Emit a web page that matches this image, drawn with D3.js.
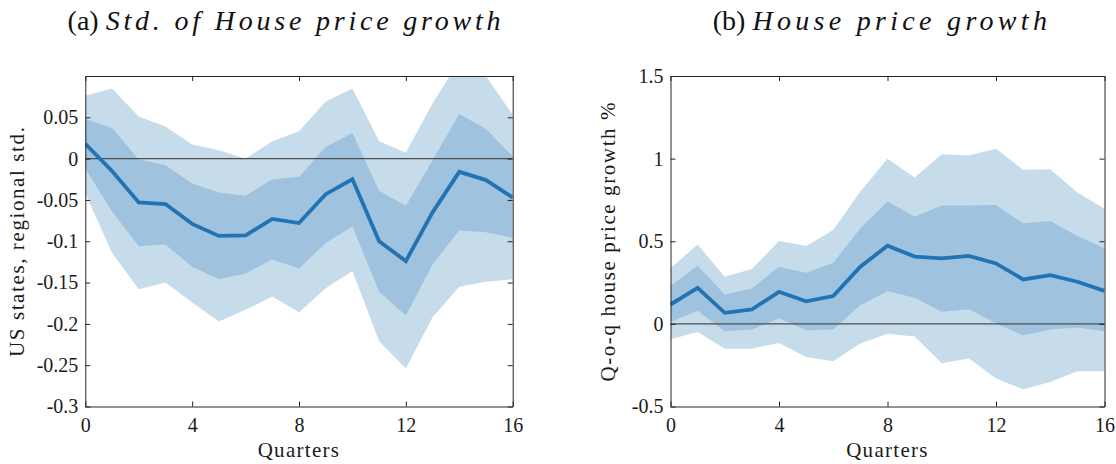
<!DOCTYPE html>
<html>
<head>
<meta charset="utf-8">
<script src="https://cdn.jsdelivr.net/npm/d3@7"></script>
<style>
  html, body { margin: 0; padding: 0; background: #ffffff; }
  svg { display: block; }
  svg text { font-family: "Liberation Serif", "Times New Roman", Times, "DejaVu Serif", serif; }
</style>
</head>
<body>
<svg id="chart" width="1116" height="464"></svg>
<script>
// ---------------- data ----------------
const quarters = [0,1,2,3,4,5,6,7,8,9,10,11,12,13,14,15,16];
const xTicks = [0,4,8,12,16];

// (a) Std. of house price growth
const stdOuterHi = [0.076, 0.085, 0.051, 0.039, 0.017, 0.010, 0.000, 0.021, 0.033, 0.069, 0.085, 0.021, 0.007, 0.067, 0.118, 0.100, 0.053];
const stdInnerHi = [0.048, 0.037, -0.001, -0.008, -0.030, -0.041, -0.045, -0.025, -0.022, 0.014, 0.031, -0.039, -0.057, -0.002, 0.054, 0.036, 0.003];
const stdMedian  = [0.018, -0.015, -0.053, -0.055, -0.079, -0.0935, -0.093, -0.073, -0.078, -0.043, -0.025, -0.100, -0.124, -0.065, -0.016, -0.026, -0.047];
const stdInnerLo = [-0.012, -0.064, -0.106, -0.104, -0.131, -0.146, -0.139, -0.122, -0.133, -0.102, -0.082, -0.161, -0.190, -0.128, -0.087, -0.089, -0.096];
const stdOuterLo = [-0.042, -0.114, -0.158, -0.150, -0.174, -0.197, -0.183, -0.167, -0.186, -0.157, -0.136, -0.221, -0.254, -0.192, -0.155, -0.149, -0.146];
const stdYTicks = [-0.3, -0.25, -0.2, -0.15, -0.1, -0.05, 0, 0.05];
const stdYTickLabels = ["-0.3", "-0.25", "-0.2", "-0.15", "-0.1", "-0.05", "0", "0.05"];

// (b) House price growth
const hpOuterHi = [0.336, 0.481, 0.285, 0.332, 0.502, 0.471, 0.568, 0.801, 0.999, 0.886, 1.027, 1.019, 1.060, 0.932, 0.936, 0.795, 0.696];
const hpInnerHi = [0.229, 0.352, 0.178, 0.214, 0.346, 0.309, 0.370, 0.578, 0.740, 0.649, 0.716, 0.716, 0.720, 0.609, 0.623, 0.532, 0.457];
const hpMedian  = [0.117, 0.218, 0.067, 0.087, 0.194, 0.136, 0.168, 0.346, 0.473, 0.407, 0.396, 0.411, 0.366, 0.269, 0.295, 0.255, 0.200];
const hpInnerLo = [0.012, 0.079, -0.044, -0.034, 0.032, -0.038, -0.034, 0.113, 0.198, 0.158, 0.073, 0.089, 0.002, -0.069, -0.034, -0.022, -0.045];
const hpOuterLo = [-0.093, -0.049, -0.150, -0.150, -0.115, -0.200, -0.226, -0.119, -0.059, -0.077, -0.238, -0.210, -0.331, -0.396, -0.352, -0.287, -0.287];
const hpYTicks = [-0.5, 0, 0.5, 1, 1.5];
const hpYTickLabels = ["-0.5", "0", "0.5", "1", "1.5"];

// ---------------- style ----------------
const C_OUTER = "#c6dcea";
const C_INNER = "#9fc3de";
const C_LINE  = "#2173b3";
const C_AXIS  = "#262626";
const FONT = '"Liberation Serif", "Times New Roman", Times, "DejaVu Serif", serif';

const svg = d3.select("#chart");

function panel(cfg) {
  const { left, right, top, bottom, yDomain, yTicks, yTickLabels,
          outerHi, innerHi, median, innerLo, outerLo, id } = cfg;
  const x = d3.scaleLinear().domain([0, 16]).range([left, right]);
  const y = d3.scaleLinear().domain(yDomain).range([bottom, top]);

  const g = svg.append("g");
  g.append("clipPath").attr("id", id)
    .append("rect").attr("x", left).attr("y", top)
    .attr("width", right - left).attr("height", bottom - top);

  const plot = g.append("g").attr("clip-path", `url(#${id})`);

  const area = (lo, hi) => d3.area()
    .x((d, i) => x(quarters[i]))
    .y0((d, i) => y(lo[i]))
    .y1((d, i) => y(hi[i]))(quarters);

  plot.append("path").attr("d", area(outerLo, outerHi)).attr("fill", C_OUTER);
  plot.append("path").attr("d", area(innerLo, innerHi)).attr("fill", C_INNER);

  plot.append("line")
    .attr("x1", left).attr("x2", right)
    .attr("y1", y(0)).attr("y2", y(0))
    .attr("stroke", "#4d4d4d").attr("stroke-width", 1.2);

  const line = d3.line().x((d, i) => x(quarters[i])).y(d => y(d));
  plot.append("path").attr("d", line(median))
    .attr("fill", "none").attr("stroke", C_LINE)
    .attr("stroke-width", 3.8).attr("stroke-linejoin", "miter");

  // axes
  const styleAxis = sel => {
    sel.attr("font-family", FONT).attr("font-size", 20);
    sel.selectAll(".domain").attr("stroke", C_AXIS).attr("stroke-width", 1);
    sel.selectAll(".tick line").attr("stroke", C_AXIS).attr("stroke-width", 1);
    sel.selectAll(".tick text").attr("fill", "#1a1a1a");
  };

  const gx = g.append("g").attr("transform", `translate(0,${bottom})`)
    .call(d3.axisBottom(x).tickValues(xTicks).tickSize(-5).tickSizeOuter(0).tickPadding(11));
  styleAxis(gx);
  const gxt = g.append("g").attr("transform", `translate(0,${top})`)
    .call(d3.axisTop(x).tickValues(xTicks).tickSize(-5).tickSizeOuter(0).tickFormat(""));
  styleAxis(gxt);
  const gy = g.append("g").attr("transform", `translate(${left},0)`)
    .call(d3.axisLeft(y).tickValues(yTicks).tickSize(-5).tickSizeOuter(0).tickPadding(7)
      .tickFormat((d, i) => yTickLabels[i]));
  styleAxis(gy);
  const gyr = g.append("g").attr("transform", `translate(${right},0)`)
    .call(d3.axisRight(y).tickValues(yTicks).tickSize(-5).tickSizeOuter(0).tickFormat(""));
  styleAxis(gyr);

  // x label
  g.append("text")
    .attr("x", (left + right) / 2).attr("y", bottom + 50)
    .attr("text-anchor", "middle")
    .attr("font-family", FONT).attr("font-size", 21)
    .attr("letter-spacing", "1.3px").attr("fill", "#1a1a1a")
    .text("Quarters");

  // y label
  g.append("text")
    .attr("transform", `translate(${cfg.yLabelX},${(top + bottom) / 2}) rotate(-90)`)
    .attr("text-anchor", "middle")
    .attr("font-family", FONT).attr("font-size", 21)
    .attr("letter-spacing", "1.6px").attr("fill", "#1a1a1a")
    .text(cfg.yLabel);

  // title
  const t = g.append("text")
    .attr("x", cfg.titleX).attr("y", 30)
    .attr("text-anchor", "middle")
    .attr("font-family", FONT).attr("font-size", 28).attr("fill", "#111");
  t.append("tspan").text(cfg.titlePrefix + " ");
  t.append("tspan").attr("font-style", "italic").attr("letter-spacing", cfg.titleSpacing)
    .text(cfg.title);
}

panel({
  id: "clipA", left: 85.3, right: 512.7, top: 76, bottom: 406.5,
  yDomain: [-0.3, 0.1], yTicks: stdYTicks, yTickLabels: stdYTickLabels,
  outerHi: stdOuterHi, innerHi: stdInnerHi, median: stdMedian,
  innerLo: stdInnerLo, outerLo: stdOuterLo,
  yLabel: "US states, regional std.", yLabelX: 24,
  titlePrefix: "(a)", title: "Std. of House price growth", titleX: 286, titleSpacing: "3.8px"
});

panel({
  id: "clipB", left: 670.5, right: 1104.5, top: 76, bottom: 406.5,
  yDomain: [-0.5, 1.5], yTicks: hpYTicks, yTickLabels: hpYTickLabels,
  outerHi: hpOuterHi, innerHi: hpInnerHi, median: hpMedian,
  innerLo: hpInnerLo, outerLo: hpOuterLo,
  yLabel: "Q-o-q house price growth %", yLabelX: 615,
  titlePrefix: "(b)", title: "House price growth", titleX: 882, titleSpacing: "4.3px"
});
</script>
</body>
</html>
